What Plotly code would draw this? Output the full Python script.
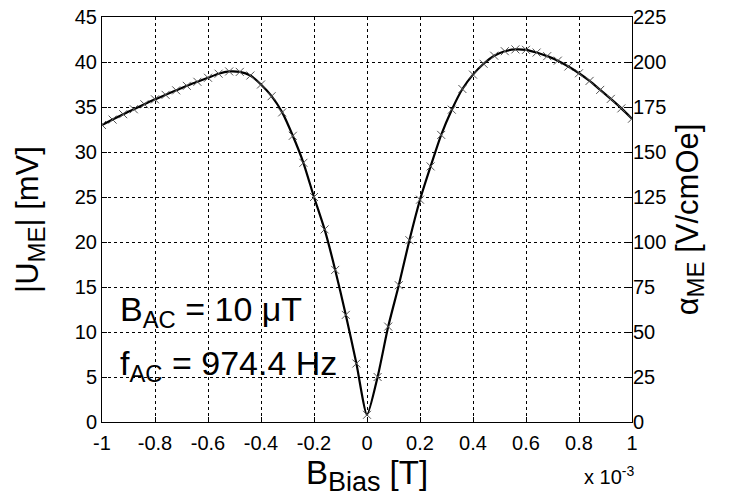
import plotly.graph_objects as go

# B_Bias in units of 1e-3 T
b_bias = [-1.00, -0.96, -0.92, -0.88, -0.84, -0.80, -0.76, -0.72, -0.68, -0.64,
          -0.60, -0.56, -0.52, -0.48, -0.44, -0.40, -0.36, -0.32, -0.28, -0.24,
          -0.20, -0.16, -0.12, -0.08, -0.04, 0.00, 0.04, 0.08, 0.12, 0.16,
          0.20, 0.24, 0.28, 0.32, 0.36, 0.40, 0.44, 0.48, 0.52, 0.56,
          0.60, 0.64, 0.68, 0.72, 0.76, 0.80, 0.84, 0.88, 0.92, 0.96, 1.00]
# |U_ME| in mV
u_me = [33.0, 33.6, 34.2, 34.75, 35.3, 35.85, 36.35, 36.85, 37.35, 37.8,
        38.25, 38.7, 38.95, 38.9, 38.5, 37.5, 36.2, 34.4, 31.8, 28.8,
        25.0, 21.4, 16.9, 11.9, 6.5, 0.8, 5.0, 10.6, 15.2, 20.2,
        24.7, 28.4, 31.9, 34.7, 37.0, 38.6, 39.8, 40.7, 41.2, 41.4,
        41.35, 41.05, 40.65, 40.15, 39.5, 38.75, 37.9, 36.9, 35.9, 34.85, 33.7]

x_ticks = [-1, -0.8, -0.6, -0.4, -0.2, 0, 0.2, 0.4, 0.6, 0.8, 1]
x_ticklabels = ["-1", "-0.8", "-0.6", "-0.4", "-0.2", "0", "0.2", "0.4", "0.6", "0.8", "1"]
y_ticks = [0, 5, 10, 15, 20, 25, 30, 35, 40, 45]
y2_ticks = [0, 25, 50, 75, 100, 125, 150, 175, 200, 225]
alpha_scale = 5  # V/cmOe per mV

FONT = "Liberation Sans, Arial, Helvetica, sans-serif"
TICKSIZE = 20

fig = go.Figure()
fig.add_trace(go.Scatter(
    x=b_bias, y=u_me, mode="lines+markers",
    line=dict(color="black", width=2.2, shape="spline", smoothing=0.6),
    marker=dict(symbol="x-thin", size=8, line=dict(color="#555555", width=1)),
    showlegend=False, hoverinfo="x+y"))
fig.add_trace(go.Scatter(
    x=b_bias, y=[v * alpha_scale for v in u_me], yaxis="y2", mode="lines",
    line=dict(color="rgba(0,0,0,0)"), showlegend=False, hoverinfo="skip"))

axis_common = dict(
    showline=True, linecolor="black", linewidth=1, mirror=True,
    ticks="inside", ticklen=5, tickcolor="black",
    showgrid=True, gridcolor="black", griddash="dot", gridwidth=1,
    zeroline=False, automargin=False,
    tickfont=dict(family=FONT, size=TICKSIZE, color="black"),
)

fig.update_layout(
    width=731, height=504,
    margin=dict(l=102, r=99, t=17, b=82),
    paper_bgcolor="white", plot_bgcolor="white",
    font=dict(family=FONT, color="black"),
    xaxis=dict(axis_common, range=[-1, 1], tickvals=x_ticks, ticktext=x_ticklabels,
               ticklabelstandoff=3,
               title=dict(text='B<sub><span style="font-size:27px">Bias</span></sub> [T]',
                          font=dict(size=33), standoff=3)),
    yaxis=dict(axis_common, range=[0, 45], tickvals=y_ticks,
               title=dict(text='|U<sub><span style="font-size:24px">ME</span></sub>| [mV]',
                          font=dict(size=31), standoff=26)),
    yaxis2=dict(overlaying="y", side="right", range=[0, 225], tickvals=y2_ticks,
                showline=False, ticks="inside", ticklen=5, tickcolor="black",
                showgrid=False, zeroline=False, automargin=False,
                tickfont=dict(family=FONT, size=TICKSIZE, color="black"),
                title=dict(text='α<sub><span style="font-size:24px">ME</span></sub> [V/cmOe]',
                           font=dict(size=31), standoff=10)),
    annotations=[
        dict(text="B<sub>AC</sub> = 10 μT", x=0.03, y=0.272, xref="paper", yref="paper",
             xanchor="left", yanchor="middle", showarrow=False,
             font=dict(size=34, family=FONT, color="black")),
        dict(text="f<sub>AC</sub> = 974.4 Hz", x=0.03, y=0.14, xref="paper", yref="paper",
             xanchor="left", yanchor="middle", showarrow=False,
             font=dict(size=34, family=FONT, color="black")),
        dict(text="x 10<sup>-3</sup>", x=1.008, y=-0.133, xref="paper", yref="paper",
             xanchor="right", yanchor="middle", showarrow=False,
             font=dict(size=20, family=FONT, color="black")),
    ],
)

# remove the browser's default 8px body margin so the figure fills the window
fig.write_html("out.html", config={"displayModeBar": False},
               post_script="document.body.style.margin='0';")
